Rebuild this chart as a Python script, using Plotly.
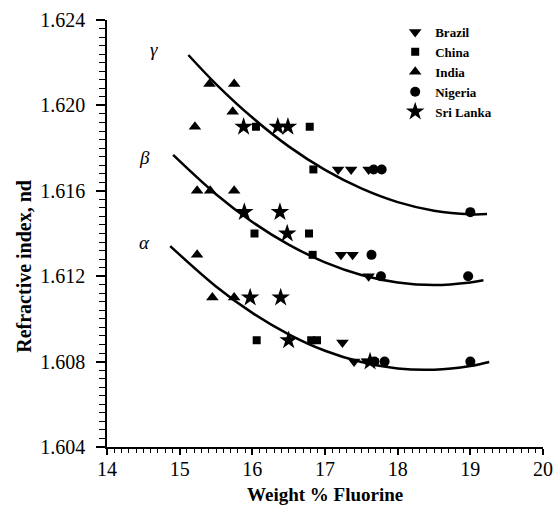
import plotly.graph_objects as go

# ---- data ----
brazil_x = [17.18, 17.36, 17.60, 17.22, 17.38, 17.60, 17.24, 17.40, 17.58]
brazil_y = [1.617, 1.617, 1.617, 1.613, 1.613, 1.612, 1.6089, 1.608, 1.608]

china_x = [16.05, 16.79, 16.84, 16.03, 16.78, 16.83, 16.06, 16.81, 16.89]
china_y = [1.619, 1.619, 1.617, 1.614, 1.614, 1.613, 1.609, 1.609, 1.609]

india_x = [15.21, 15.41, 15.73, 15.75, 15.24, 15.42, 15.75, 15.24, 15.45, 15.75]
india_y = [1.619, 1.621, 1.6197, 1.621, 1.616, 1.616, 1.616, 1.613, 1.611, 1.611]

nigeria_x = [17.67, 17.78, 19.00, 17.64, 17.77, 18.97, 17.68, 17.82, 19.00]
nigeria_y = [1.617, 1.617, 1.615, 1.613, 1.612, 1.612, 1.608, 1.608, 1.608]

srilanka_x = [15.88, 16.35, 16.49, 15.89, 16.38, 16.48, 15.97, 16.39, 16.50, 17.62]
srilanka_y = [1.619, 1.619, 1.619, 1.615, 1.615, 1.614, 1.611, 1.611, 1.609, 1.608]

gamma_x = [15.12, 15.5, 16.0, 16.5, 17.0, 17.5, 18.0, 18.5, 19.0, 19.23]
gamma_y = [1.62236, 1.62100, 1.61943, 1.61808, 1.61698, 1.61611, 1.61547, 1.61507, 1.61490, 1.61491]

beta_x = [14.91, 15.5, 16.0, 16.5, 17.0, 17.5, 18.0, 18.5, 19.0, 19.18]
beta_y = [1.61768, 1.61584, 1.61454, 1.61348, 1.61265, 1.61206, 1.61171, 1.61159, 1.61171, 1.61181]

alpha_x = [14.87, 15.5, 16.0, 16.5, 17.0, 17.5, 18.0, 18.5, 19.0, 19.26]
alpha_y = [1.61341, 1.61152, 1.61028, 1.60928, 1.60851, 1.60798, 1.60768, 1.60762, 1.60779, 1.60798]

curve_labels = ["γ", "β", "α"]
curve_label_x = [14.65, 14.52, 14.52]
curve_label_y = [1.6226, 1.61754, 1.6136]

FONT = "Liberation Serif"

fig = go.Figure()

for cx, cy in [(gamma_x, gamma_y), (beta_x, beta_y), (alpha_x, alpha_y)]:
    fig.add_trace(go.Scatter(x=cx, y=cy, mode="lines", line=dict(color="black", width=2.5, shape="spline"),
                             showlegend=False, hoverinfo="skip"))

series = [
    ("Brazil", brazil_x, brazil_y, "triangle-down", 11),
    ("China", china_x, china_y, "square", 8),
    ("India", india_x, india_y, "triangle-up", 11),
    ("Nigeria", nigeria_x, nigeria_y, "circle", 10),
    ("Sri Lanka", srilanka_x, srilanka_y, "star", 14),
]
for name, xs, ys, sym, sz in series:
    fig.add_trace(go.Scatter(x=xs, y=ys, mode="markers", name=name,
                             marker=dict(symbol=sym, size=sz, color="black", line=dict(width=0))))

for t, lx, ly in zip(curve_labels, curve_label_x, curve_label_y):
    fig.add_annotation(x=lx, y=ly, text="<i>" + t + "</i>", showarrow=False,
                       font=dict(family=FONT, size=19, color="black"))

# axis titles placed as paper annotations
fig.add_annotation(xref="paper", yref="paper", x=-0.1905, y=0.4243, text="<b>Refractive index, nd</b>",
                   textangle=-90, showarrow=False, xanchor="center", yanchor="middle",
                   font=dict(family=FONT, size=20, color="black"))
fig.add_annotation(xref="paper", yref="paper", x=0.5, y=-0.112, text="<b>Weight % Fluorine</b>",
                   showarrow=False, xanchor="center", yanchor="middle",
                   font=dict(family=FONT, size=19, color="black"))

fig.update_layout(
    width=554, height=505,
    margin=dict(l=107, r=11, t=20, b=58),
    paper_bgcolor="white", plot_bgcolor="white",
    font=dict(family=FONT, color="black"),
    legend=dict(x=0.661, y=1.007, xanchor="left", yanchor="top",
                font=dict(family=FONT, size=13, color="black", weight="bold"),
                bgcolor="rgba(0,0,0,0)", itemwidth=30, tracegroupgap=0),
    xaxis=dict(range=[14, 20], dtick=1, tick0=14, showgrid=False, zeroline=False, automargin=False,
               showline=True, linecolor="black", linewidth=1.5,
               ticks="outside", ticklen=6, tickwidth=1.5, tickcolor="black",
               minor=dict(dtick=0.1, ticks="outside", ticklen=4, tickcolor="black", tickwidth=1),
               tickfont=dict(family=FONT, size=20, color="black"), ticklabelstandoff=-3),
    yaxis=dict(range=[1.604, 1.624], dtick=0.004, tick0=1.604, tickformat=".3f", showgrid=False, zeroline=False,
               automargin=False,
               showline=True, linecolor="black", linewidth=1.5,
               ticks="outside", ticklen=9, tickwidth=1.5, tickcolor="black",
               minor=dict(dtick=0.0004, ticks="outside", ticklen=6, tickcolor="black", tickwidth=1),
               tickfont=dict(family=FONT, size=20, color="black"), ticklabelstandoff=7),
)

fig.write_html("out.html")
